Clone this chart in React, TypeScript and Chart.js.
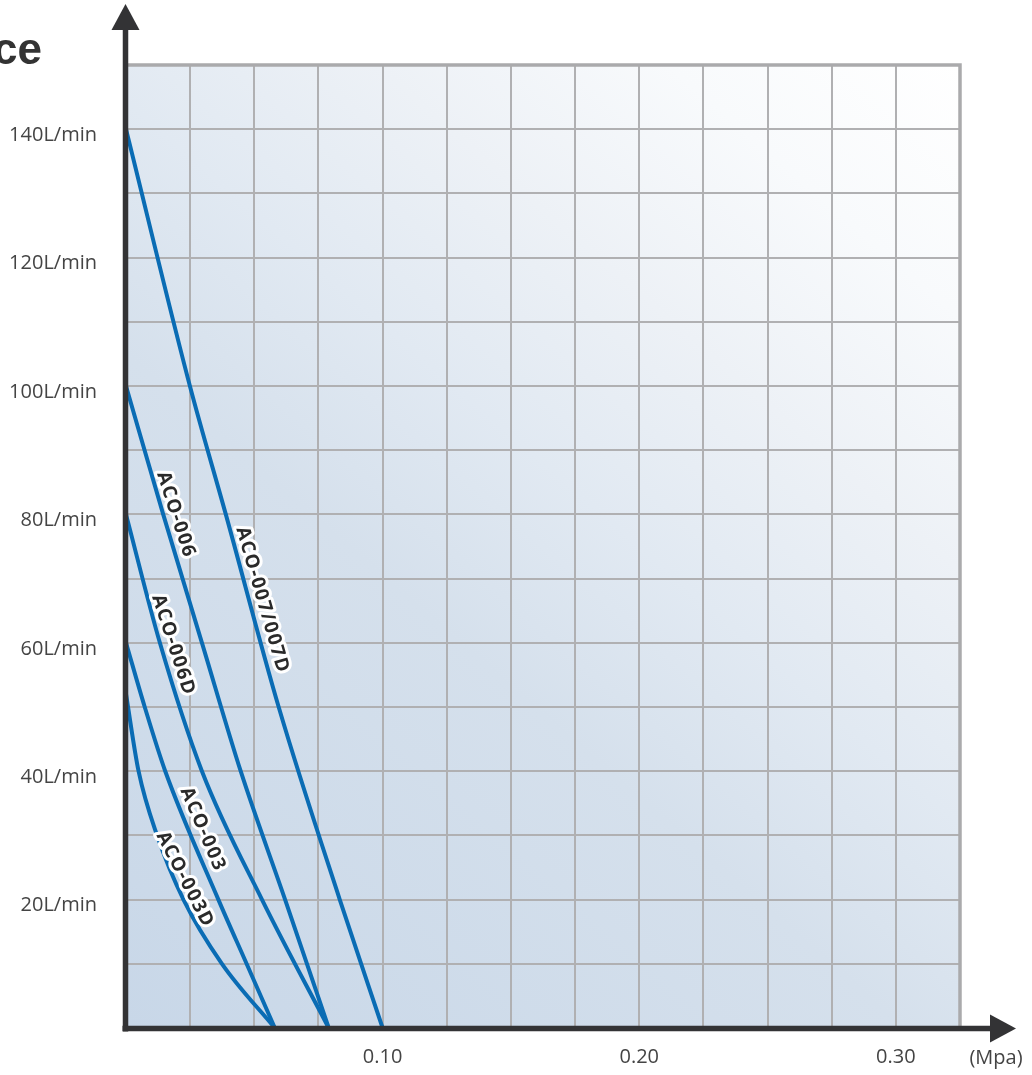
import React, { useEffect, useRef } from "react";
import { Chart, registerables } from "chart.js";

Chart.register(...registerables);

// ---- data ----
const pressure007 = [0, 0.0249, 0.0389, 0.0595, 0.0833, 0.1];
const flow007 = [140, 100, 80, 50, 20, 0];

const pressure006 = [0, 0.0145, 0.0296, 0.0447, 0.062, 0.079];
const flow006 = [100, 80, 60, 40, 20, 0];

const pressure006D = [0, 0.0132, 0.0296, 0.053, 0.079];
const flow006D = [80, 60, 40, 20, 0];

const pressure003 = [0, 0.0073, 0.0153, 0.036, 0.047, 0.058];
const flow003 = [60, 50, 40, 20, 10, 0];

const pressure003D = [0, 0.0049, 0.0121, 0.0224, 0.0374, 0.058];
const flow003D = [52, 40, 30, 20, 10, 0];

const seriesNames = ["ACO-007/007D", "ACO-006", "ACO-006D", "ACO-003", "ACO-003D"];

const labelX = [0.0535, 0.0198, 0.0188, 0.0303, 0.0233];
const labelY = [66.7, 80, 59.7, 31, 23.2];
const labelAngle = [74, 72, 72, 67, 63];

const yTickValues = [20, 40, 60, 80, 100, 120, 140];
const xTickValues = [0.1, 0.2, 0.3];
const xUnit = "(Mpa)";
const titleFragment = "ce";

const LINE = "#0a6cb4";
const AXIS = "#333335";
const GRID = "#b0b0b2";

function pts(xs: number[], ys: number[]) {
  return xs.map((x, i) => ({ x, y: ys[i] }));
}

const decorPlugin = {
  id: "decor",
  beforeDraw(chart: any) {
    const { ctx, chartArea: a } = chart;
    ctx.save();
    ctx.fillStyle = "#ffffff";
    ctx.fillRect(0, 0, chart.width, chart.height);
    const g = ctx.createLinearGradient(a.left, a.bottom, a.right, a.top);
    g.addColorStop(0, "#c8d7e8");
    g.addColorStop(0.4, "#d5e0ec");
    g.addColorStop(0.55, "#e1e9f2");
    g.addColorStop(0.7, "#edf1f6");
    g.addColorStop(0.85, "#f8fafc");
    g.addColorStop(1, "#ffffff");
    ctx.fillStyle = g;
    ctx.fillRect(a.left, a.top, a.right - a.left, a.bottom - a.top);
    ctx.restore();
  },
  afterDatasetsDraw(chart: any) {
    const { ctx, chartArea: a, scales } = chart;
    ctx.save();
    // top / right border
    ctx.strokeStyle = "#aaaaac";
    ctx.lineWidth = 3.5;
    ctx.beginPath();
    ctx.moveTo(a.left, a.top);
    ctx.lineTo(a.right, a.top);
    ctx.lineTo(a.right, a.bottom);
    ctx.stroke();

    // curve labels
    ctx.font = 'bold 19px "Open Sans"';
    (ctx as any).letterSpacing = "1.5px";
    ctx.textAlign = "center";
    ctx.textBaseline = "middle";
    ctx.lineJoin = "round";
    seriesNames.forEach((name, i) => {
      const px = scales.x.getPixelForValue(labelX[i]);
      const py = scales.y.getPixelForValue(labelY[i]);
      ctx.save();
      ctx.translate(px, py);
      ctx.rotate((labelAngle[i] * Math.PI) / 180);
      ctx.strokeStyle = "#ffffff";
      ctx.lineWidth = 6;
      ctx.strokeText(name, 0, 1);
      ctx.fillStyle = "#2a2a2a";
      ctx.fillText(name, 0, 1);
      ctx.restore();
    });
    (ctx as any).letterSpacing = "0px";

    // axes
    const ax = a.left - 0.5;
    const ay = a.bottom + 0.5;
    ctx.strokeStyle = AXIS;
    ctx.fillStyle = AXIS;
    ctx.lineWidth = 5.5;
    ctx.lineCap = "butt";
    ctx.beginPath();
    ctx.moveTo(ax, ay + 3);
    ctx.lineTo(ax, 28);
    ctx.stroke();
    ctx.beginPath();
    ctx.moveTo(ax - 3, ay);
    ctx.lineTo(992, ay);
    ctx.stroke();
    // arrows
    ctx.beginPath();
    ctx.moveTo(ax, 4);
    ctx.lineTo(ax + 14, 30);
    ctx.lineTo(ax - 14, 30);
    ctx.closePath();
    ctx.fill();
    ctx.beginPath();
    ctx.moveTo(1016, ay);
    ctx.lineTo(990, ay - 14);
    ctx.lineTo(990, ay + 14);
    ctx.closePath();
    ctx.fill();

    // unit and title
    ctx.fillStyle = "#444444";
    ctx.font = '20px "Open Sans"';
    ctx.textAlign = "center";
    ctx.textBaseline = "middle";
    ctx.fillText(xUnit, 996, 1058);
    ctx.fillStyle = "#333333";
    ctx.font = 'bold 44px "Liberation Sans"';
    ctx.textAlign = "right";
    ctx.textBaseline = "alphabetic";
    ctx.fillText(titleFragment, 42, 64);
    ctx.restore();
  },
};

export default function App() {
  const ref = useRef<HTMLCanvasElement | null>(null);
  useEffect(() => {
    if (!ref.current) return;
    const mk = (label: string, xs: number[], ys: number[]) => ({
      label,
      data: pts(xs, ys),
      borderColor: LINE,
      backgroundColor: LINE,
      borderWidth: 4,
      pointRadius: 0,
      showLine: true,
      cubicInterpolationMode: "monotone" as const,
      fill: false,
    });
    const chart = new Chart(ref.current, {
      type: "scatter",
      data: {
        datasets: [
          mk(seriesNames[0], pressure007, flow007),
          mk(seriesNames[1], pressure006, flow006),
          mk(seriesNames[2], pressure006D, flow006D),
          mk(seriesNames[3], pressure003, flow003),
          mk(seriesNames[4], pressure003D, flow003D),
        ],
      },
      options: {
        animation: false,
        responsive: false,
        devicePixelRatio: 1,
        layout: { padding: { top: 65, right: 72, left: 0, bottom: 0 } },
        plugins: { legend: { display: false }, tooltip: { enabled: false } },
        scales: {
          x: {
            type: "linear",
            min: 0,
            max: 0.325,
            border: { display: false },
            grid: { color: GRID, lineWidth: 2, drawTicks: false },
            afterFit: (s: any) => {
              s.height = 47;
            },
            ticks: {
              stepSize: 0.025,
              padding: 17,
              maxRotation: 0,
              autoSkip: false,
              color: "#444444",
              font: { family: '"Open Sans"', size: 20 },
              callback: (v: any) => {
                const n = Number(v);
                const hit = xTickValues.find((t) => Math.abs(t - n) < 1e-6);
                return hit !== undefined ? hit.toFixed(2) : "";
              },
            },
          },
          y: {
            type: "linear",
            min: 0,
            max: 150,
            border: { display: false },
            grid: { color: GRID, lineWidth: 2, drawTicks: false },
            afterFit: (s: any) => {
              s.width = 126;
            },
            ticks: {
              stepSize: 10,
              padding: 29,
              labelOffset: 6,
              autoSkip: false,
              color: "#444444",
              font: { family: '"Open Sans"', size: 20 },
              callback: (v: any) => (yTickValues.includes(Number(v)) ? `${v}L/min` : ""),
            },
          },
        },
      },
      plugins: [decorPlugin],
    });
    return () => chart.destroy();
  }, []);
  return (
    <div style={{ position: "absolute", left: 0, top: 0, width: 1032, height: 1075 }}>
      <canvas ref={ref} width={1032} height={1075} style={{ width: 1032, height: 1075, display: "block" }} />
    </div>
  );
}
